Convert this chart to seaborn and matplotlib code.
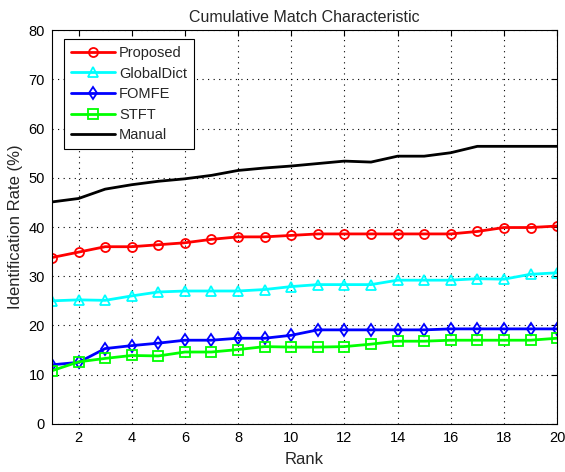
import matplotlib
matplotlib.use("Agg")
import matplotlib.pyplot as plt
import seaborn as sns
import numpy as np

ranks = list(range(1, 21))
proposed = [33.8, 34.9, 36.0, 36.0, 36.4, 36.8, 37.5, 38.0, 38.0, 38.3,
            38.6, 38.6, 38.6, 38.6, 38.6, 38.6, 39.1, 39.9, 39.9, 40.2]
globaldict = [25.0, 25.2, 25.1, 26.0, 26.8, 27.0, 27.0, 27.0, 27.3, 27.9,
              28.3, 28.3, 28.3, 29.2, 29.2, 29.2, 29.5, 29.4, 30.4, 30.7]
fomfe = [12.0, 12.5, 15.3, 15.9, 16.4, 17.0, 17.0, 17.4, 17.4, 18.0,
         19.1, 19.1, 19.1, 19.1, 19.1, 19.3, 19.3, 19.3, 19.3, 19.3]
stft = [10.8, 12.6, 13.3, 13.9, 13.8, 14.6, 14.6, 15.1, 15.7, 15.6,
        15.6, 15.7, 16.2, 16.8, 16.8, 17.0, 17.0, 17.0, 17.0, 17.4]
manual = [45.1, 45.8, 47.7, 48.6, 49.3, 49.8, 50.5, 51.5, 52.0, 52.4,
          52.9, 53.4, 53.2, 54.4, 54.4, 55.1, 56.4, 56.4, 56.4, 56.4]

series_names = ["Proposed", "GlobalDict", "FOMFE", "STFT", "Manual"]
series_values = [proposed, globaldict, fomfe, stft, manual]
colors = ["#ff0000", "#00ffff", "#0000ff", "#00ff00", "#000000"]
markers = ["o", "^", "d", "s", None]

sns.set_style("white")
plt.rcParams['font.family'] = ['Liberation Sans', 'DejaVu Sans']

fig = plt.figure(figsize=(5.65, 4.72), dpi=100)
ax = fig.add_axes([0.092, 0.102, 0.894, 0.834])

for name, vals, c, m in zip(series_names, series_values, colors, markers):
    kw = dict(x=ranks, y=vals, ax=ax, color=c, linewidth=2, label=name)
    if m is not None:
        kw.update(marker=m, markersize=6.5,
                  markerfacecolor="none", markeredgecolor=c, markeredgewidth=1.3)
    sns.lineplot(**kw)

ax.set_xlim(1, 20)
ax.set_ylim(0, 80)
ax.set_xticks(range(2, 21, 2))
ax.set_yticks(range(0, 81, 10))
ax.grid(True, linestyle=(0, (1, 4)), color="black", linewidth=0.8)
ax.tick_params(direction="in", top=True, right=True, labelsize=10.5, length=4,
               colors="black", pad=5)
for s in ax.spines.values():
    s.set_color("black")
    s.set_linewidth(0.8)
ax.set_title("Cumulative Match Characteristic", fontsize=11.5, pad=6)
ax.set_xlabel("Rank", fontsize=12, labelpad=5)
ax.set_ylabel("Identification Rate (%)", fontsize=12, labelpad=4)

leg = ax.legend(loc="upper left", bbox_to_anchor=(0.01, 0.995), fontsize=10.5,
                fancybox=False, framealpha=1, edgecolor="black",
                handlelength=3, borderpad=0.45, labelspacing=0.45,
                handletextpad=0.3)
leg.get_frame().set_linewidth(0.8)

fig.savefig("out.png", dpi=100)
